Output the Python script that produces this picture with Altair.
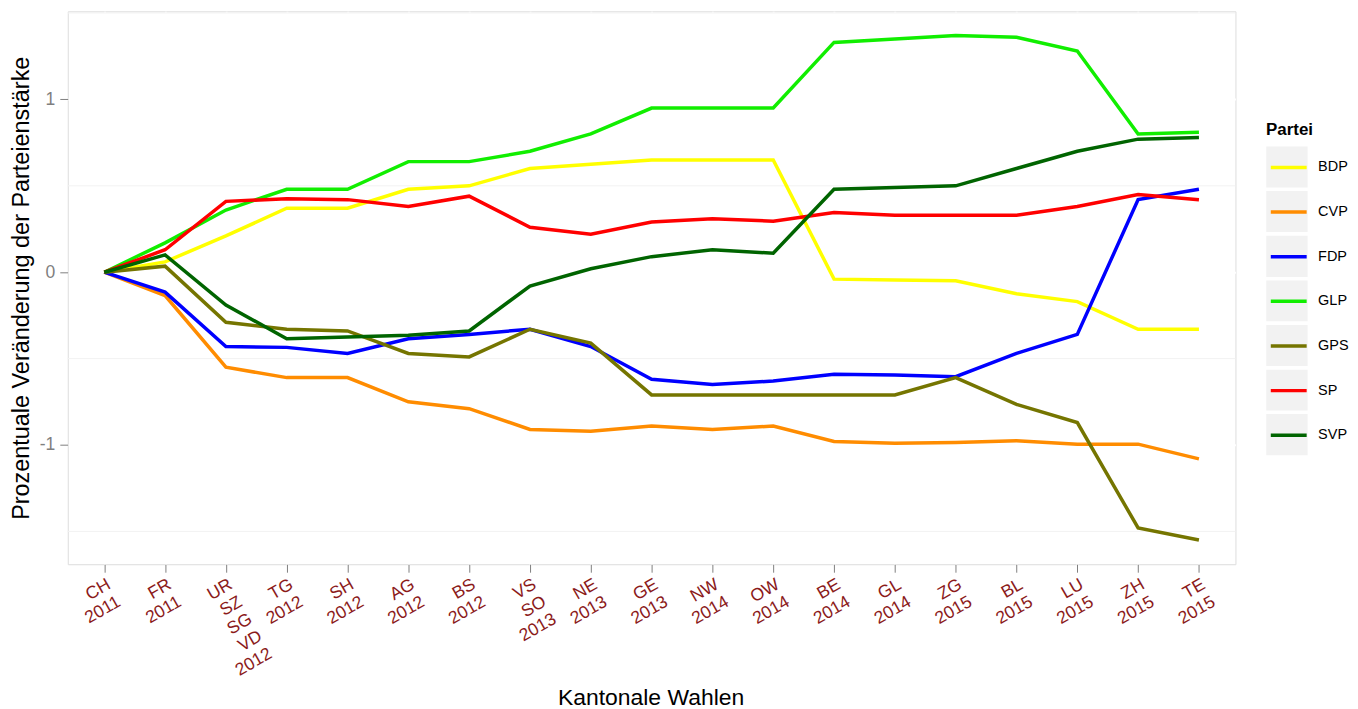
import altair as alt
import pandas as pd

# ---- data ----
wahlen = ["CH|2011", "FR|2011", "UR|SZ|SG|VD|2012", "TG|2012", "SH|2012", "AG|2012",
          "BS|2012", "VS|SO|2013", "NE|2013", "GE|2013", "NW|2014", "OW|2014",
          "BE|2014", "GL|2014", "ZG|2015", "BL|2015", "LU|2015", "ZH|2015", "TE|2015"]

parteien = ["BDP", "CVP", "FDP", "GLP", "GPS", "SP", "SVP"]
farben = ["#FFFF00", "#FF8C00", "#0000FF", "#11EE00", "#757500", "#FF0000", "#006400"]

bdp = [0, 0.06, 0.21, 0.37, 0.37, 0.48, 0.50, 0.60, 0.625, 0.65, 0.65, 0.65,
       -0.04, -0.045, -0.05, -0.125, -0.17, -0.33, -0.33]
cvp = [0, -0.135, -0.55, -0.61, -0.61, -0.75, -0.79, -0.91, -0.92, -0.89, -0.91, -0.89,
       -0.98, -0.99, -0.985, -0.975, -0.995, -0.995, -1.08]
fdp = [0, -0.115, -0.43, -0.435, -0.47, -0.385, -0.36, -0.33, -0.43, -0.62, -0.65, -0.63,
       -0.59, -0.595, -0.605, -0.47, -0.36, 0.42, 0.48]
glp = [0, 0.17, 0.36, 0.48, 0.48, 0.64, 0.64, 0.70, 0.80, 0.95, 0.95, 0.95,
       1.33, 1.35, 1.37, 1.36, 1.28, 0.80, 0.81]
gps = [0, 0.035, -0.29, -0.33, -0.34, -0.47, -0.49, -0.33, -0.41, -0.71, -0.71, -0.71,
       -0.71, -0.71, -0.61, -0.765, -0.87, -1.48, -1.55]
sp = [0, 0.13, 0.41, 0.425, 0.42, 0.38, 0.44, 0.26, 0.22, 0.29, 0.31, 0.295,
      0.345, 0.33, 0.33, 0.33, 0.38, 0.45, 0.42]
svp = [0, 0.10, -0.19, -0.385, -0.375, -0.365, -0.34, -0.08, 0.02, 0.09, 0.13, 0.11,
       0.48, 0.49, 0.50, 0.60, 0.70, 0.77, 0.78]

y_ticks = [-1, 0, 1]
y_minor = [-1.5, -0.5, 0.5, 1.5]

serien = dict(zip(parteien, [bdp, cvp, fdp, glp, gps, sp, svp]))
rows = []
for p, vals in serien.items():
    for w, v in zip(wahlen, vals):
        rows.append({"Wahl": w, "Partei": p, "Box": p, "Wert": v})
df = pd.DataFrame(rows)
minor_df = pd.DataFrame({"m": y_minor})

FONT = "Liberation Sans"
W, H = 1172, 555

yscale = alt.Scale(domain=[-1.69, 1.51], nice=False, zero=False)

x_enc = alt.X(
    "Wahl:N", sort=wahlen,
    scale=alt.Scale(type="point", padding=0.6),
    axis=alt.Axis(
        title="Kantonale Wahlen", titleFontSize=23, titleFontWeight="normal",
        titleColor="black", titleFont=FONT, titleX=W / 2 - 1, titleY=133.5,
        titleBaseline="middle", titleAlign="center",
        labelExpr="split(datum.label, '|')", labelAngle=-30, labelAlign="right",
        labelBaseline="top", labelColor="#8B1A1A", labelFontSize=17.6, labelFont=FONT,
        labelLineHeight=20, labelPadding=3, labelOverlap=False, labelBound=False,
        tickColor="#7F7F7F", tickSize=8, tickWidth=1, domain=False,
        grid=True, gridColor="white", gridWidth=2,
    ),
)

y_axis = alt.Axis(
    title="Prozentuale Veränderung der Parteienstärke", titleFontSize=23.5,
    titleFontWeight="normal", titleColor="black", titleFont=FONT,
    titleX=-46.5, titleY=H / 2, titleBaseline="middle", titleAlign="center",
    values=y_ticks, labelExpr="'' + datum.value", labelColor="#7F7F7F",
    labelFontSize=17.6, labelFont=FONT, labelPadding=5,
    tickColor="#7F7F7F", tickSize=8, tickWidth=1, domain=False,
    grid=True, gridColor="white", gridWidth=2,
)

minor = alt.Chart(minor_df).mark_rule(color="#F2F2F2", strokeWidth=1).encode(
    y=alt.Y("m:Q", scale=yscale, axis=y_axis)
)

lines = alt.Chart(df).mark_line(strokeWidth=3.5).encode(
    x=x_enc,
    y=alt.Y("Wert:Q", scale=yscale, axis=y_axis),
    color=alt.Color(
        "Partei:N",
        scale=alt.Scale(domain=parteien, range=farben),
        legend=alt.Legend(
            orient="none", legendX=1205.5, legendY=136, title=None,
            symbolType="stroke", symbolSize=1296, symbolStrokeWidth=3.5,
            labelFont=FONT, labelFontSize=14.5, labelColor="black", labelOffset=9.5,
            clipHeight=41.5, rowPadding=2.8, padding=0, zindex=2,
        ),
    ),
    detail="Partei:N",
)

boxes = alt.Chart(df).mark_point(filled=True, opacity=0, size=1).encode(
    x=alt.X("Wahl:N", sort=wahlen),
    y=alt.Y("Wert:Q", scale=yscale),
    fill=alt.Fill(
        "Box:N",
        scale=alt.Scale(range=["#F2F2F2"]),
        legend=alt.Legend(
            orient="none", legendX=1202.7, legendY=111, title="Partei",
            titleFont=FONT, titleFontSize=17, titleFontWeight="bold", titleColor="black",
            titlePadding=7.5, symbolType="square", symbolSize=1722, symbolStrokeWidth=0,
            symbolOpacity=1, labelOpacity=0, labelFontSize=14.5, labelOffset=9.5,
            clipHeight=41.5, rowPadding=2.8, padding=0, zindex=0,
        ),
    ),
)

chart = alt.layer(minor, lines, boxes).resolve_scale(fill="independent").properties(
    width=W, height=H,
    autosize=alt.AutoSizeParams(type="none"),
    padding={"left": 60, "top": 2, "right": 115, "bottom": 144},
).configure_view(fill="#E5E5E5", stroke=None).configure(font=FONT)

chart.save("out.html", embed_options={"renderer": "svg", "actions": False})
